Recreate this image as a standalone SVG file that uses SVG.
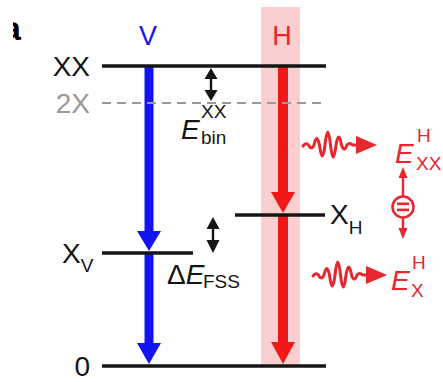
<svg xmlns="http://www.w3.org/2000/svg" xmlns:xlink="http://www.w3.org/1999/xlink" width="443" height="382" viewBox="0 0 443 382">
<style>
text{font-family:"Liberation Sans",Arial,sans-serif;}
.lbl{font-size:28px;fill:#151515;}
.sub{font-size:19px;fill:#151515;}
.gray{font-size:28px;fill:#9a9a9a;}
.it{font-style:italic;}
.red{fill:#e8262d;}
.lvl{stroke:#151515;stroke-width:3.5;fill:none;}
.blue{fill:#1414f0;}
.rarr{fill:#f21818;}
.wave{fill:none;stroke:#e8262d;stroke-width:3;stroke-linejoin:round;stroke-linecap:round;}
</style>
<defs>
<clipPath id="clipA"><rect x="13" y="0" width="20" height="60"/></clipPath>
<g id="photon">
<path class="wave" d="M0,1 Q3,-3 5.5,0 Q8.25,6 11,0 Q13.75,-13 16.5,0 Q19.25,22 22,0 Q24.75,-26 27.5,0 Q30.25,24 33,0 Q35.75,-16 38.5,0 Q41.25,8 44,0 Q46.75,-3 49.5,0 L56,0"/>
<polygon points="53,-9 74,0 53,9" fill="#e8262d"/>
</g>
</defs>

<g id="panel-label"><text x="2" y="40" clip-path="url(#clipA)" style="font-size:34px;font-weight:bold;fill:#000">a</text></g>

<g id="h-band"><rect x="261" y="7" width="39" height="359" fill="#fbcfd0"/></g>

<g id="connectors">
<path id="v-arrow-1" class="blue" d="M144.5,66 V231 H137 L149,251 L161,231 H153.5 V66 Z"/>
<path id="v-arrow-2" class="blue" d="M144.5,253 V343 H137 L149,364 L161,343 H153.5 V253 Z"/>
<path id="h-arrow-1" class="rarr" d="M278,66 V192 H271 L283,213 L295,192 H288 V66 Z"/>
<path id="h-arrow-2" class="rarr" d="M278,215 V342 H271 L283,364 L295,342 H288 V215 Z"/>
<path id="ebin-arrow" fill="#151515" d="M211,68 L217.5,79 H212.2 V90 H217.5 L211,101 L204.5,90 H209.8 V79 H204.5 Z"/>
<path id="efss-arrow" fill="#151515" d="M213,217 L219.5,229 H214.2 V240 H219.5 L213,253 L206.5,240 H211.8 V229 H206.5 Z"/>
<use id="photon-xx" xlink:href="#photon" href="#photon" x="303" y="145"/>
<use id="photon-x" xlink:href="#photon" href="#photon" x="313" y="275"/>
<g id="equal-link" fill="#e8262d" stroke="#e8262d">
<line x1="403" y1="197" x2="403" y2="176" stroke-width="2.4"/>
<polygon points="398.5,178 403,167 407.5,178" stroke="none"/>
<line x1="403" y1="217" x2="403" y2="230" stroke-width="2.4"/>
<polygon points="398.5,228 403,239 407.5,228" stroke="none"/>
</g>
</g>

<g id="level-xx"><line class="lvl" x1="102" y1="66" x2="326" y2="66"/><text class="lbl" x="90" y="76" text-anchor="end">XX</text></g>
<g id="level-2x"><line x1="102" y1="103" x2="326" y2="103" stroke="#9a9a9a" stroke-width="2" stroke-dasharray="9,6"/><text class="gray" x="90" y="113" text-anchor="end">2X</text></g>
<g id="level-xv"><line class="lvl" x1="102" y1="253" x2="193" y2="253"/><text class="lbl" x="62" y="263">X<tspan class="sub" dy="9">V</tspan></text></g>
<g id="level-xh"><line class="lvl" x1="235" y1="215" x2="325" y2="215"/><text class="lbl" x="330" y="224">X<tspan class="sub" dy="10">H</tspan></text></g>
<g id="level-0"><line class="lvl" x1="102" y1="366" x2="326" y2="366"/><text class="lbl" x="90" y="376" text-anchor="end">0</text></g>

<g id="label-v"><text x="148" y="45" text-anchor="middle" style="font-size:27px;fill:#1414f0">V</text></g>
<g id="label-h"><text x="282" y="45" text-anchor="middle" style="font-size:27px;fill:#e8262d">H</text></g>

<g id="label-ebin"><text class="lbl it" x="181" y="139">E</text><text class="sub" x="201" y="118">XX</text><text class="sub" x="201" y="144">bin</text></g>
<g id="label-efss"><text class="lbl" x="167" y="284">Δ<tspan class="it">E</tspan></text><text class="sub" x="203" y="288">FSS</text></g>

<g id="label-exx"><text class="lbl it red" x="395" y="163">E</text><text class="sub red" x="417" y="142">H</text><text class="sub red" x="416" y="170">XX</text></g>
<g id="label-ex"><text class="lbl it red" x="391" y="290">E</text><text class="sub red" x="412" y="269">H</text><text class="sub red" x="411" y="297">X</text></g>

<g id="equal-node"><circle cx="403" cy="207" r="10.5" fill="#fff" stroke="#e8262d" stroke-width="2.5"/><rect x="397" y="202.5" width="12" height="2.6" fill="#e8262d"/><rect x="397" y="208.6" width="12" height="2.6" fill="#e8262d"/></g>
</svg>
